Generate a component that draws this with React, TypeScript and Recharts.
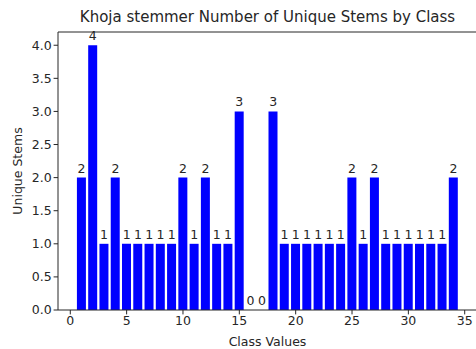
import React from 'react'
import { ComposedChart, Bar, Line, XAxis, YAxis, LabelList, Label, ReferenceLine } from 'recharts'

const classValues = [
  1, 2, 3, 4, 5, 6, 7, 8, 9, 10, 11, 12, 13, 14, 15, 16, 17,
  18, 19, 20, 21, 22, 23, 24, 25, 26, 27, 28, 29, 30, 31, 32, 33, 34,
]
const uniqueStems = [
  2, 4, 1, 2, 1, 1, 1, 1, 1, 2, 1, 2, 1, 1, 3, 0, 0,
  3, 1, 1, 1, 1, 1, 1, 2, 1, 2, 1, 1, 1, 1, 1, 1, 2,
]
const xTicks = [0, 5, 10, 15, 20, 25, 30, 35]
const yTicks = [0, 0.5, 1, 1.5, 2, 2.5, 3, 3.5, 4]

const data = classValues.map((c, i) => ({ cls: c, stems: uniqueStems[i] }))

const FONT = '"DejaVu Sans", sans-serif'
const INK = '#262626'
const tick = { fill: INK, fontSize: 12.5, fontFamily: FONT }

export default function App() {
  return (
    <div
      style={{
        position: 'absolute',
        left: 0,
        top: 0,
        width: 476,
        height: 349,
        overflow: 'hidden',
        background: '#fff',
      }}
    >
      <div
        style={{
          position: 'absolute',
          left: 58,
          width: 419,
          top: 8,
          textAlign: 'center',
          fontFamily: FONT,
          fontSize: 15,
          color: INK,
          whiteSpace: 'nowrap',
        }}
      >
        Khoja stemmer Number of Unique Stems by Class
      </div>
      <ComposedChart
        width={480}
        height={349}
        data={data}
        margin={{ top: 32, right: 3, left: 0, bottom: 0 }}
      >
        <XAxis
          dataKey="cls"
          type="number"
          domain={[-1.09, 36.09]}
          ticks={xTicks}
          allowDataOverflow
          interval={0}
          tick={tick}
          tickSize={4.4}
          stroke={INK}
          height={39}
        >
          <Label
            value="Class Values"
            position="insideBottom"
            offset={3}
            style={{ fill: INK, fontSize: 12.5, fontFamily: FONT }}
          />
        </XAxis>
        <YAxis
          domain={[0, 4.2]}
          ticks={yTicks}
          allowDataOverflow
          interval={0}
          tickFormatter={(v: number) => v.toFixed(1)}
          tick={tick}
          tickSize={4.4}
          stroke={INK}
          width={58}
        >
          <Label
            value="Unique Stems"
            angle={-90}
            position="insideLeft"
            offset={18}
            style={{ fill: INK, fontSize: 12.5, fontFamily: FONT, textAnchor: 'middle' }}
          />
        </YAxis>
        <ReferenceLine y={4.2} stroke={INK} />
        <Bar dataKey="stems" fill="#0000ff" barSize={9} isAnimationActive={false} />
        {/* invisible line carries the value labels so the zero-height bars get their "0" too */}
        <Line
          dataKey="stems"
          stroke="none"
          dot={false}
          activeDot={false}
          isAnimationActive={false}
        >
          <LabelList
            dataKey="stems"
            position="top"
            offset={5}
            style={{ fill: INK, fontSize: 12.5, fontFamily: FONT }}
          />
        </Line>
      </ComposedChart>
    </div>
  )
}
